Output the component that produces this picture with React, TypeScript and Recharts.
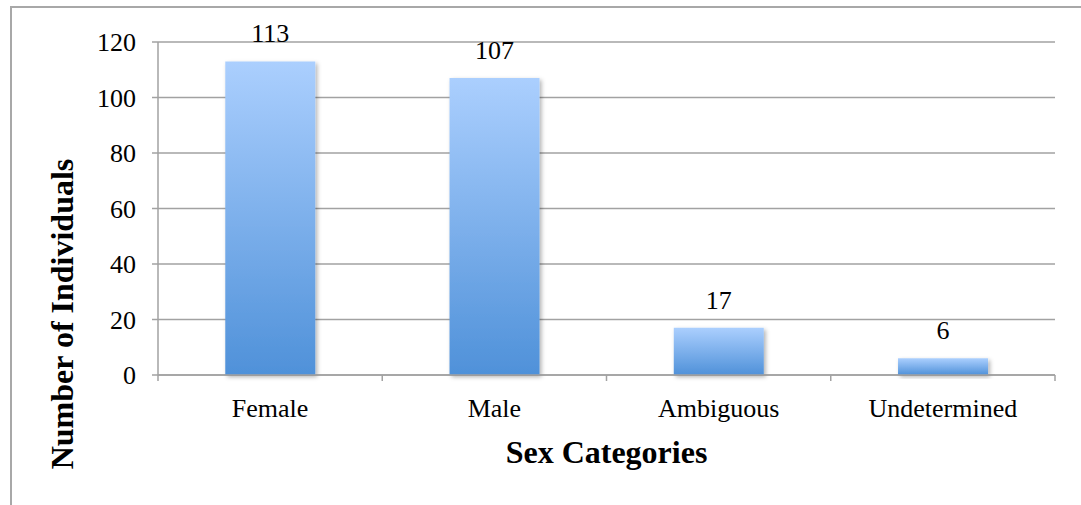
import { Bar, BarChart, CartesianGrid, LabelList, XAxis, YAxis } from "recharts";

const categories = ["Female", "Male", "Ambiguous", "Undetermined"];
const counts = [113, 107, 17, 6];
const yTicks = [0, 20, 40, 60, 80, 100, 120];

const data = categories.map((name, i) => ({ name, count: counts[i] }));

const GRID = "#a2a2a2";
const FONT = "'Liberation Serif', 'Times New Roman', serif";
const X_TICK_GAP = 24;

// category label plus small marks on the band edges, like Office charts
function CategoryTick(props: any) {
  const { x, y, payload, index, visibleTicksCount } = props;
  const axisY = y - X_TICK_GAP;
  const half = payload.offset ?? 0;
  const isLast = index === visibleTicksCount - 1;
  return (
    <g>
      <line x1={x - half} x2={x - half} y1={axisY} y2={axisY + 6} stroke={GRID} strokeWidth={1.5} />
      {isLast && (
        <line x1={x + half} x2={x + half} y1={axisY} y2={axisY + 6} stroke={GRID} strokeWidth={1.5} />
      )}
      <text x={x} y={y} dy="0.71em" textAnchor="middle" fontSize={26} fontFamily={FONT} fill="#000">
        {payload.value}
      </text>
    </g>
  );
}

export default function App() {
  return (
    <div
      style={{
        position: "absolute",
        left: 0,
        top: 0,
        width: 1081,
        height: 505,
        overflow: "hidden",
        background: "#ffffff",
        fontFamily: FONT,
      }}
    >
      <style>{`.recharts-wrapper text { font-family: ${FONT}; }`}</style>
      {/* chart area frame, runs off the right and bottom edges */}
      <div
        style={{
          position: "absolute",
          left: 10,
          top: 6,
          width: 1120,
          height: 540,
          border: "2px solid #a8a8a8",
        }}
      />
      <BarChart
        width={1081}
        height={505}
        data={data}
        margin={{ top: 42, right: 26, bottom: 70, left: 98 }}
        barCategoryGap="30%"
        style={{ position: "absolute", left: 0, top: 0, fontFamily: FONT }}
      >
        <defs>
          <linearGradient id="barFill" x1="0" y1="0" x2="0" y2="1">
            <stop offset="0%" stopColor="#abcffe" />
            <stop offset="100%" stopColor="#4f91d9" />
          </linearGradient>
          <filter id="barShadow" x="-10%" y="-10%" width="130%" height="130%">
            <feDropShadow dx="2" dy="2" stdDeviation="2" floodColor="#000" floodOpacity="0.3" />
          </filter>
        </defs>

        <CartesianGrid vertical={false} stroke={GRID} strokeWidth={1.5} />

        <XAxis
          dataKey="name"
          height={60}
          axisLine={{ stroke: GRID, strokeWidth: 1.5 }}
          tickLine={false}
          tickSize={0}
          tickMargin={X_TICK_GAP}
          interval={0}
          tick={<CategoryTick />}
          label={{
            content: ({ viewBox }: any) => (
              <text
                x={viewBox.x + viewBox.width / 2}
                y={viewBox.y + 88}
                textAnchor="middle"
                fontSize={32}
                fontWeight="bold"
                fontFamily={FONT}
                fill="#000"
              >
                Sex Categories
              </text>
            ),
          }}
        />

        <YAxis
          domain={[0, 120]}
          ticks={yTicks}
          width={60}
          axisLine={{ stroke: GRID, strokeWidth: 1.5 }}
          tickLine={{ stroke: GRID, strokeWidth: 1.5 }}
          tickSize={6}
          tickMargin={16}
          tick={{ fill: "#000", fontSize: 26, fontFamily: FONT }}
          label={{
            content: ({ viewBox }: any) => (
              <text
                transform={`translate(${viewBox.x - 25},${viewBox.y + 272}) rotate(-90)`}
                textAnchor="middle"
                fontSize={32}
                fontWeight="bold"
                fontFamily={FONT}
                fill="#000"
              >
                Number of Individuals
              </text>
            ),
          }}
        />

        <Bar
          dataKey="count"
          fill="url(#barFill)"
          style={{ filter: "url(#barShadow)" }}
          isAnimationActive={false}
        >
          <LabelList
            dataKey="count"
            position="top"
            offset={19}
            fill="#000"
            fontSize={26}
            fontFamily={FONT}
          />
        </Bar>
      </BarChart>
    </div>
  );
}
